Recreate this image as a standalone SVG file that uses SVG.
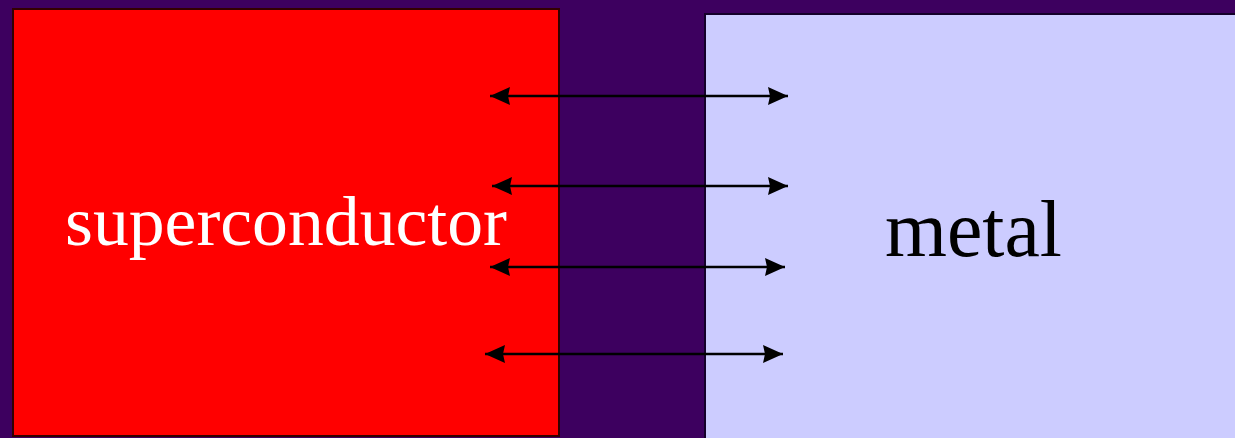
<svg xmlns="http://www.w3.org/2000/svg" width="1235" height="438" viewBox="0 0 1235 438">
<style>
.c{stroke:#000;stroke-width:2.5;fill:none}
.lbl{font-family:"Liberation Serif","Times New Roman",serif}
</style>
<defs>
<marker id="ah" viewBox="0 0 20 20" refX="20" refY="10" markerWidth="20" markerHeight="20" markerUnits="userSpaceOnUse" orient="auto-start-reverse">
<path d="M0,1 L20,10 L0,19 L2,10 Z" fill="#000"/>
</marker>
</defs>
<rect width="1235" height="438" fill="#3d005f"/>
<g id="superconductor">
<rect x="13" y="9" width="546" height="427" fill="#ff0000" stroke="#300" stroke-width="2"/>
<text class="lbl" x="65" y="245" font-size="70" fill="#fff" textLength="442" lengthAdjust="spacingAndGlyphs">superconductor</text>
</g>
<g id="metal">
<rect x="705" y="14" width="535" height="430" fill="#ccccff" stroke="#14002a" stroke-width="2"/>
<text class="lbl" x="885" y="256" font-size="80" fill="#000" textLength="177" lengthAdjust="spacingAndGlyphs">metal</text>
</g>
<g id="connectors">
<line class="c" x1="490" y1="96" x2="788" y2="96" marker-start="url(#ah)" marker-end="url(#ah)"/>
<line class="c" x1="492" y1="186" x2="788" y2="186" marker-start="url(#ah)" marker-end="url(#ah)"/>
<line class="c" x1="490" y1="267" x2="785" y2="267" marker-start="url(#ah)" marker-end="url(#ah)"/>
<line class="c" x1="485" y1="354" x2="783" y2="354" marker-start="url(#ah)" marker-end="url(#ah)"/>
</g>
</svg>
